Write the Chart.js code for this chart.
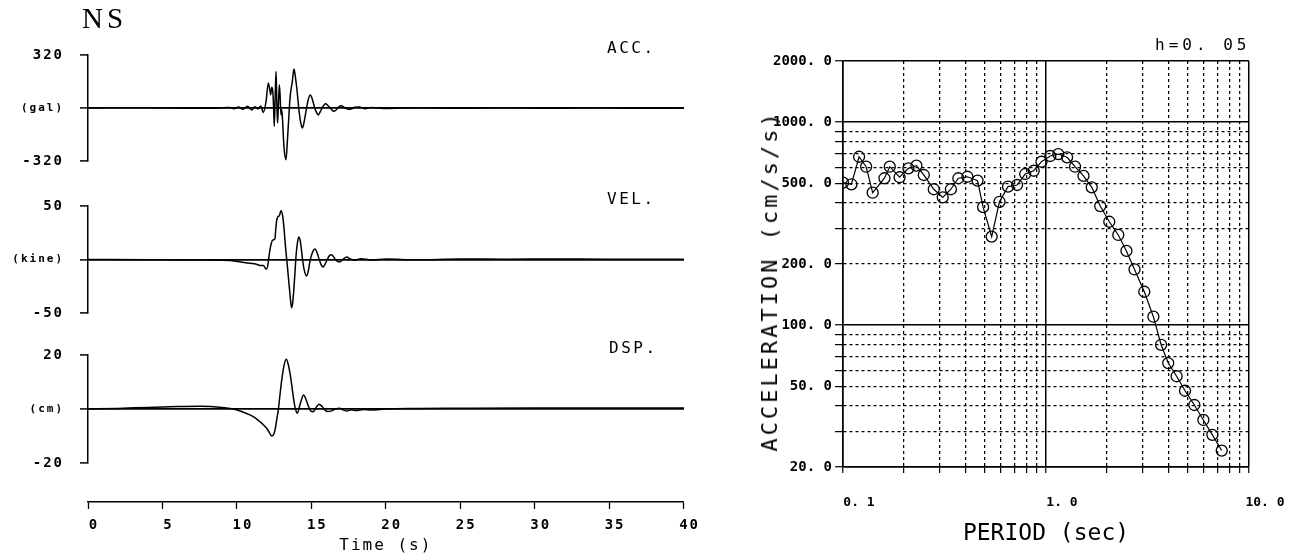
<!DOCTYPE html>
<html>
<head>
<meta charset="utf-8">
<script src="https://cdn.jsdelivr.net/npm/chart.js@4.4.1/dist/chart.umd.min.js"></script>
<style>
html,body{margin:0;padding:0;background:#fff;}
body{width:1300px;height:556px;position:relative;overflow:hidden;}
canvas{position:absolute;}
.lbl{position:absolute;white-space:nowrap;color:#000;line-height:1;font-family:"DejaVu Sans Mono",monospace;}
</style>
</head>
<body>
<canvas id="acc" width="700" height="158" style="left:0;top:29px"></canvas>
<canvas id="vel" width="700" height="159" style="left:0;top:180px"></canvas>
<canvas id="dsp" width="700" height="160" style="left:0;top:329px"></canvas>
<canvas id="time" width="700" height="76" style="left:0;top:480px"></canvas>
<canvas id="spec" width="540" height="556" style="left:760px;top:0"></canvas>

<div class="lbl" style="left:82px;top:4px;font-family:'Liberation Serif',serif;font-size:29px;letter-spacing:4px;">NS</div>
<div class="lbl" style="left:607px;top:40px;font-size:16px;letter-spacing:2.5px;">ACC.</div>
<div class="lbl" style="left:607px;top:191px;font-size:16px;letter-spacing:2.5px;">VEL.</div>
<div class="lbl" style="left:609px;top:340px;font-size:16px;letter-spacing:2.5px;">DSP.</div>
<div class="lbl" style="left:1155px;top:37px;font-size:16px;letter-spacing:4px;">h=0. 05</div>
<div class="lbl" style="left:770px;top:281px;font-size:22px;letter-spacing:3px;transform:translate(-50%,-50%) rotate(-90deg);">ACCELERATION (cm/s/s)</div>

<script>
// ---- Time histories ----
const accTime = [0, 4, 8, 9.5, 9.8, 10.1, 10.4, 10.7, 11.0, 11.2, 11.4, 11.6, 11.77, 11.95, 12.1, 12.2, 12.26, 12.33, 12.39, 12.45, 12.5, 12.56, 12.62, 12.67, 12.72, 12.78, 12.84, 12.9, 12.95, 13.0, 13.05, 13.15, 13.29, 13.38, 13.44, 13.5, 13.55, 13.62, 13.7, 13.82, 13.9, 14.0, 14.1, 14.18, 14.28, 14.38, 14.48, 14.63, 14.78, 14.92, 15.05, 15.2, 15.35, 15.46, 15.6, 15.79, 15.95, 16.1, 16.3, 16.5, 16.65, 16.85, 17.0, 17.2, 17.4, 17.6, 17.9, 18.2, 18.6, 19, 20, 22, 25, 28, 31, 34, 37, 40];
const accValues = [0, 2, -2, 3, -5, 6, -8, 10, -12, 8, -6, 12, -27, 40, 151, 110, 80, 125, 110, 20, -111, 60, 221, 40, -91, 20, 141, 60, -40, -10, -60, -232, -312, -200, -111, -20, 50, 110, 150, 235, 200, 130, 40, -30, -90, -121, -95, -20, 50, 78, 55, 5, -30, -42, -20, 12, 25, 15, -5, -20, -12, 8, 14, 4, -6, -8, 4, 6, -4, 3, -3, 2, -2, 2, -2, 2, -2, 0];

const velTime = [0, 4, 8, 9.5, 10.87, 11.3, 11.54, 11.77, 11.95, 12.05, 12.12, 12.21, 12.3, 12.39, 12.48, 12.55, 12.6, 12.66, 12.75, 12.84, 12.95, 13.06, 13.15, 13.22, 13.3, 13.38, 13.47, 13.56, 13.66, 13.74, 13.82, 13.9, 13.96, 14.05, 14.14, 14.22, 14.3, 14.4, 14.5, 14.67, 14.78, 14.9, 15.05, 15.23, 15.38, 15.52, 15.65, 15.79, 15.92, 16.06, 16.2, 16.35, 16.5, 16.65, 16.9, 17.1, 17.36, 17.6, 17.9, 18.3, 19, 20, 22, 25, 28, 31, 35, 40];
const velValues = [0, -0.3, -0.5, -1, -3.6, -4.5, -5.5, -5.5, -9, -6.6, 0, 9.1, 15, 18.2, 18.5, 19.7, 28, 36.4, 40, 41, 45.5, 41, 30, 18, 5, -6, -20, -33, -45, -40, -27, -10, 3, 15, 21, 19, 12, 0, -9, -15.5, -11, -1.5, 6, 9.7, 6, 0, -5, -7, -4, 0, 3.5, 4.5, 2, -1, -2.4, 0, 2.4, 0.5, -0.8, 0.8, -0.5, 0.5, -0.3, 0.5, 0.3, 0.5, 0.3, 0.3];

const dspTime = [0, 2, 4, 6, 7.5, 9, 9.76, 10.3, 10.87, 11.2, 11.54, 11.8, 12.0, 12.2, 12.33, 12.45, 12.55, 12.65, 12.77, 12.88, 13.0, 13.15, 13.31, 13.44, 13.56, 13.67, 13.78, 13.9, 14.05, 14.15, 14.3, 14.47, 14.6, 14.79, 14.95, 15.12, 15.3, 15.5, 15.7, 15.9, 16.1, 16.35, 16.6, 16.9, 17.1, 17.36, 17.7, 18, 18.5, 19, 20, 22, 25, 30, 35, 40];
const dspValues = [0, 0.2, 0.6, 0.9, 1.0, 0.6, 0, -0.9, -2.2, -3.2, -4.7, -6, -7.2, -9, -10, -9.5, -7.8, -4.5, -0.4, 5, 10.7, 16, 18.4, 16.5, 13.2, 9, 4.5, 0.5, -1.6, 0, 3, 5.2, 4, 1.1, -0.8, -1, 0.5, 1.8, 1, -0.4, -0.9, -0.7, 0, 0.3, -0.3, -0.7, -0.3, -0.6, -0.2, -0.4, 0, 0.2, 0.3, 0.4, 0.4, 0.4];

const timeTicks = [0, 5, 10, 15, 20, 25, 30, 35, 40];

// ---- Response spectrum (h = 0.05) ----
const periods = [0.1, 0.11, 0.12, 0.13, 0.14, 0.16, 0.17, 0.19, 0.21, 0.23, 0.25, 0.28, 0.31, 0.34, 0.37, 0.41, 0.46, 0.49, 0.54, 0.59, 0.65, 0.72, 0.79, 0.87, 0.95, 1.05, 1.15, 1.27, 1.39, 1.53, 1.68, 1.85, 2.05, 2.27, 2.49, 2.73, 3.05, 3.38, 3.69, 4.0, 4.4, 4.84, 5.38, 5.96, 6.6, 7.34];
const spectralAcc = [503, 494, 675, 603, 449, 529, 603, 535, 592, 610, 549, 467, 426, 467, 529, 538, 515, 381, 273, 405, 481, 490, 555, 576, 638, 681, 696, 671, 603, 543, 477, 386, 323, 278, 232, 188, 146, 110, 80, 65, 56, 47.5, 40.4, 34.1, 28.8, 24.1];

const periodGrid = [0.1, 0.2, 0.3, 0.4, 0.5, 0.6, 0.7, 0.8, 0.9, 1, 2, 3, 4, 5, 6, 7, 8, 9, 10];
const periodMajor = [0.1, 1, 10];
const accelGrid = [20, 30, 40, 50, 60, 70, 80, 90, 100, 200, 300, 400, 500, 600, 700, 800, 900, 1000, 2000];
const accelMajor = [20, 100, 1000, 2000];
const accelLabelled = [20, 50, 100, 200, 500, 1000, 2000];

const MONO = '"DejaVu Sans Mono", monospace';
Chart.defaults.font.family = MONO;
Chart.defaults.color = '#000';

function pairs(xs, ys) { return xs.map((x, i) => ({ x: x, y: ys[i] })); }
function near(list, v) { return list.some(a => Math.abs(a - v) < 1e-9 * Math.max(1, a)); }
function fmt(v) { return v.toFixed(1).replace('.', '. '); }

// plotter-style wide lettering for canvas text
function spacingPlugin(px) {
  return {
    id: 'letterSpacing',
    beforeDraw(chart) { chart.ctx.letterSpacing = px + 'px'; },
    afterDraw(chart) { chart.ctx.letterSpacing = '0px'; }
  };
}

// layout padding (26) exceeds the label overflow of the y axis, so the plot area is exact
function makePanel(id, times, vals, lim, unit) {
  return new Chart(document.getElementById(id), {
    type: 'line',
    data: { datasets: [{ data: pairs(times, vals), borderColor: '#000', borderWidth: 1.5, pointRadius: 0, cubicInterpolationMode: 'monotone', fill: false }] },
    plugins: [spacingPlugin(2)],
    options: {
      responsive: false, animation: false, devicePixelRatio: 1,
      layout: { padding: { left: 0, right: 16, top: 26, bottom: 26 } },
      plugins: { legend: { display: false }, tooltip: { enabled: false } },
      scales: {
        x: { type: 'linear', min: 0, max: 40, display: false },
        y: {
          type: 'linear', min: -lim, max: lim,
          afterFit: s => { s.width = 88; },
          afterBuildTicks: s => { s.ticks = [{ value: -lim }, { value: 0 }, { value: lim }]; },
          ticks: {
            callback: v => v === 0 ? unit : String(v),
            padding: 16, color: '#000',
            font: c => (c.tick && c.tick.value === 0) ? { family: MONO, size: 11, weight: 'bold' } : { family: MONO, size: 14, weight: 'bold' }
          },
          grid: {
            color: c => (c.tick && c.tick.value === 0) ? '#000' : 'rgba(0,0,0,0)',
            lineWidth: 1.8, drawOnChartArea: true, drawTicks: true,
            tickLength: 8, tickColor: '#000', tickWidth: 1.5
          },
          border: { display: true, color: '#000', width: 1.5 }
        }
      }
    }
  });
}

makePanel('acc', accTime, accValues, 320, '(gal)');
makePanel('vel', velTime, velValues, 50, '(kine)');
makePanel('dsp', dspTime, dspValues, 20, '(cm)');

new Chart(document.getElementById('time'), {
  type: 'line',
  data: { datasets: [{ data: [], borderColor: '#000' }] },
  plugins: [spacingPlugin(2)],
  options: {
    responsive: false, animation: false, devicePixelRatio: 1,
    layout: { padding: { left: 88, right: 16, top: 10, bottom: 0 } },
    plugins: { legend: { display: false }, tooltip: { enabled: false } },
    scales: {
      x: {
        type: 'linear', min: 0, max: 40, position: 'bottom',
        afterFit: s => { s.height = 54; },
        afterBuildTicks: s => { s.ticks = timeTicks.map(v => ({ value: v })); },
        ticks: { padding: 8, labelOffset: 6, autoSkip: false, maxRotation: 0, color: '#000', font: { family: MONO, size: 14, weight: 'bold' } },
        grid: { drawOnChartArea: false, drawTicks: true, tickLength: 7, tickColor: '#000', tickWidth: 1.3 },
        border: { display: true, color: '#000', width: 1.5 },
        title: { display: true, text: 'Time (s)', color: '#000', font: { family: MONO, size: 16 }, padding: { top: 0, bottom: 1 } }
      },
      y: { display: false, min: 0, max: 1 }
    }
  }
});

new Chart(document.getElementById('spec'), {
  type: 'line',
  data: { datasets: [{
    data: pairs(periods, spectralAcc), borderColor: '#000', borderWidth: 1.2, tension: 0,
    pointRadius: 5.5, pointStyle: 'circle', pointBorderColor: '#000', pointBackgroundColor: 'rgba(0,0,0,0)', pointBorderWidth: 1.3
  }] },
  options: {
    responsive: false, animation: false, devicePixelRatio: 1,
    layout: { padding: { left: 0, right: 51, top: 61, bottom: 0 } },
    plugins: { legend: { display: false }, tooltip: { enabled: false } },
    scales: {
      x: {
        type: 'logarithmic', min: 0.1, max: 10,
        afterFit: s => { s.height = 89; },
        afterBuildTicks: s => { s.ticks = periodGrid.map(v => ({ value: v })); },
        ticks: { autoSkip: false, maxRotation: 0, align: 'center', labelOffset: 16, padding: 22, color: '#000',
          font: { family: MONO, size: 13, weight: 'bold' },
          callback: v => near(periodMajor, v) ? fmt(v) : '' },
        grid: { color: '#000', lineWidth: c => (c.tick && near(periodMajor, c.tick.value)) ? 1.5 : 1.25,
          tickLength: 6, tickColor: '#000', tickWidth: 1.2 },
        border: { display: true, color: '#000', width: 1.5,
          dash: c => (c.tick && !near(periodMajor, c.tick.value)) ? [3, 3] : [] },
        title: { display: true, text: 'PERIOD (sec)', color: '#000', font: { family: MONO, size: 23 }, padding: { top: 0, bottom: 8 } }
      },
      y: {
        type: 'logarithmic', min: 20, max: 2000,
        afterFit: s => { s.width = 83; },
        afterBuildTicks: s => { s.ticks = accelGrid.map(v => ({ value: v })); },
        ticks: { autoSkip: false, padding: 3, color: '#000',
          font: { family: MONO, size: 14, weight: 'bold' },
          callback: v => near(accelLabelled, v) ? fmt(v) : '' },
        grid: { color: '#000', lineWidth: c => (c.tick && near(accelMajor, c.tick.value)) ? 1.5 : 1.25,
          tickLength: 8, tickColor: '#000', tickWidth: 1.2 },
        border: { display: true, color: '#000', width: 1.5,
          dash: c => (c.tick && !near(accelMajor, c.tick.value)) ? [3, 3] : [] }
      }
    }
  }
});
</script>
</body>
</html>
